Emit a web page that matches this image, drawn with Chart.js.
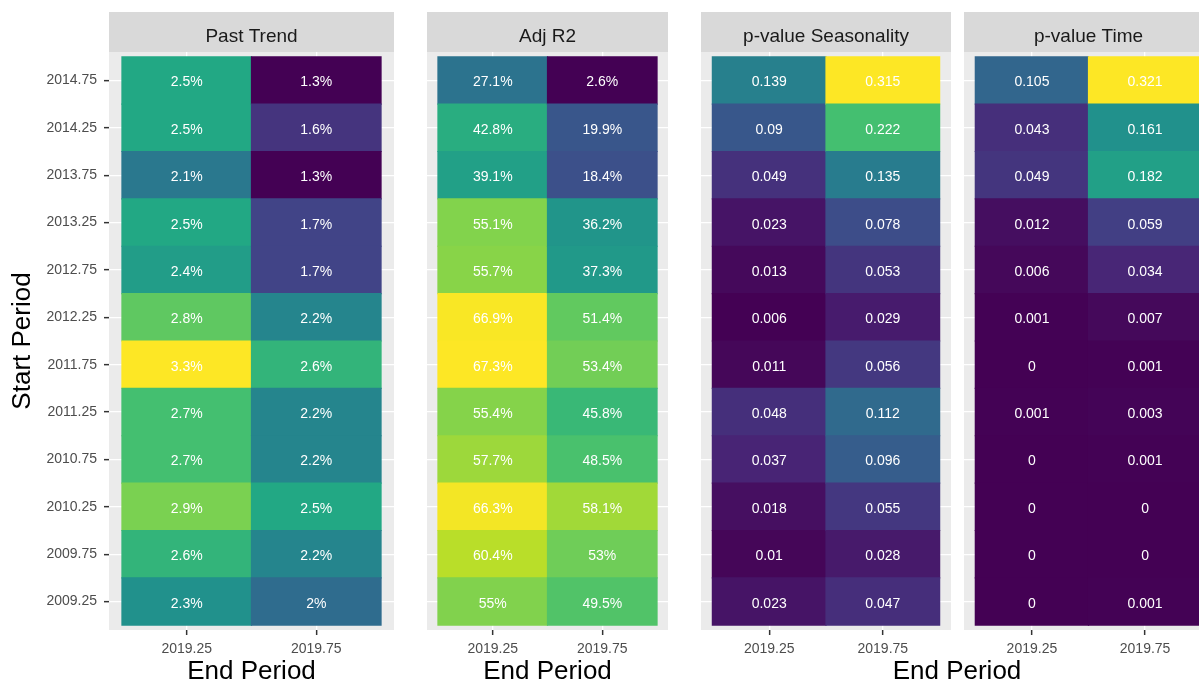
<!DOCTYPE html>
<html>
<head>
<meta charset="utf-8">
<script src="https://cdn.jsdelivr.net/npm/chart.js@4/dist/chart.umd.min.js"></script>
<style>
  html, body { margin: 0; padding: 0; background: #fff; }
  body { width: 1199px; height: 685px; overflow: hidden; position: relative; font-family: "Liberation Sans", Arial, sans-serif; }
  canvas { position: absolute; top: 0; }
  #c1 { left: 0; }
  #c2 { left: 427px; }
  #c3 { left: 701px; }
  #c4 { left: 964px; }
  .xtitle { position: absolute; left: 701px; width: 512px; top: 657px; text-align: center; font-size: 26px; line-height: 26px; color: #000; }
</style>
</head>
<body>
<canvas id="c1" width="394" height="685"></canvas>
<canvas id="c2" width="241" height="685"></canvas>
<canvas id="c3" width="250" height="685"></canvas>
<canvas id="c4" width="249" height="685"></canvas>
<div class="xtitle">End Period</div>
<script>
// rows, top to bottom
const startPeriods = [2014.75, 2014.25, 2013.75, 2013.25, 2012.75, 2012.25, 2011.75, 2011.25, 2010.75, 2010.25, 2009.75, 2009.25];
const endPeriods = [2019.25, 2019.75];

// Past Trend (%)
const pastTrend1925 = [2.5, 2.5, 2.1, 2.5, 2.4, 2.8, 3.3, 2.7, 2.7, 2.9, 2.6, 2.3];
const pastTrend1975 = [1.3, 1.6, 1.3, 1.7, 1.7, 2.2, 2.6, 2.2, 2.2, 2.5, 2.2, 2.0];

// Adj R2 (%)
const adjR21925 = [27.1, 42.8, 39.1, 55.1, 55.7, 66.9, 67.3, 55.4, 57.7, 66.3, 60.4, 55.0];
const adjR21975 = [2.6, 19.9, 18.4, 36.2, 37.3, 51.4, 53.4, 45.8, 48.5, 58.1, 53.0, 49.5];

// p-value Seasonality
const pSeason1925 = [0.139, 0.09, 0.049, 0.023, 0.013, 0.006, 0.011, 0.048, 0.037, 0.018, 0.01, 0.023];
const pSeason1975 = [0.315, 0.222, 0.135, 0.078, 0.053, 0.029, 0.056, 0.112, 0.096, 0.055, 0.028, 0.047];

// p-value Time
const pTime1925 = [0.105, 0.043, 0.049, 0.012, 0.006, 0.001, 0, 0.001, 0, 0, 0, 0];
const pTime1975 = [0.321, 0.161, 0.182, 0.059, 0.034, 0.007, 0.001, 0.003, 0.001, 0, 0, 0.001];

const FONT = '"Liberation Sans", Arial, sans-serif';
Chart.defaults.font.family = FONT;

// viridis stops
const viridis = ['#440154', '#482475', '#414487', '#355F8D', '#2A788E', '#21918C', '#22A884', '#44BF70', '#7AD151', '#BDDF26', '#FDE725'];
function hexToRgb(h) {
  return [parseInt(h.slice(1, 3), 16), parseInt(h.slice(3, 5), 16), parseInt(h.slice(5, 7), 16)];
}
function viridisColor(t) {
  t = Math.max(0, Math.min(1, t));
  const pos = t * (viridis.length - 1);
  const i = Math.min(Math.floor(pos), viridis.length - 2);
  const f = pos - i;
  const a = hexToRgb(viridis[i]), b = hexToRgb(viridis[i + 1]);
  const c = a.map((v, k) => Math.round(v + (b[k] - v) * f));
  return 'rgb(' + c.join(',') + ')';
}

const panelPlugin = {
  id: 'panel',
  beforeDraw(chart, args, opts) {
    const {ctx, chartArea: a} = chart;
    ctx.save();
    ctx.fillStyle = '#EBEBEB';
    ctx.fillRect(a.left, a.top, a.right - a.left, a.bottom - a.top);
    ctx.fillStyle = '#D9D9D9';
    ctx.fillRect(a.left, 12, a.right - a.left, a.top - 12);
    ctx.fillStyle = '#1A1A1A';
    ctx.font = '19px ' + FONT;
    ctx.textAlign = 'center';
    ctx.textBaseline = 'alphabetic';
    ctx.fillText(opts.title, (a.left + a.right) / 2, 41.5);
    ctx.restore();
  },
  afterDatasetsDraw(chart, args, opts) {
    const ctx = chart.ctx;
    const meta = chart.getDatasetMeta(0);
    const data = chart.data.datasets[0].data;
    ctx.save();
    ctx.fillStyle = '#FFFFFF';
    ctx.font = '14px ' + FONT;
    ctx.textAlign = 'center';
    ctx.textBaseline = 'alphabetic';
    meta.data.forEach((bar, i) => {
      const cy = (bar.y + bar.base) / 2;
      ctx.fillText(String(data[i].v) + opts.suffix, bar.x, cy + 6);
    });
    ctx.restore();
  }
};

function makePanel(id, title, columns, suffix, showY, showXTitle) {
  const stepX = endPeriods[1] - endPeriods[0];
  const stepY = startPeriods[0] - startPeriods[1];
  const all = columns.flat();
  const lo = Math.min(...all), hi = Math.max(...all);

  const points = [];
  const colors = [];
  columns.forEach((col, j) => {
    col.forEach((v, i) => {
      points.push({ x: endPeriods[j], y: [startPeriods[i] - stepY / 2, startPeriods[i] + stepY / 2], v: v });
      colors.push(viridisColor((v - lo) / (hi - lo)));
    });
  });

  new Chart(document.getElementById(id), {
    type: 'bar',
    data: {
      datasets: [{
        data: points,
        backgroundColor: colors,
        borderWidth: 0,
        inflateAmount: 0.6,
        barPercentage: 1,
        categoryPercentage: 1
      }]
    },
    options: {
      responsive: false,
      animation: false,
      devicePixelRatio: 1,
      events: [],
      layout: { padding: { top: 52, left: 0, right: 0, bottom: 0 } },
      plugins: {
        legend: { display: false },
        tooltip: { enabled: false },
        panel: { title: title, suffix: suffix }
      },
      scales: {
        x: {
          type: 'linear',
          offset: false,
          bounds: 'data',
          min: endPeriods[0] - stepX / 2 - stepX * 0.1,
          max: endPeriods[endPeriods.length - 1] + stepX / 2 + stepX * 0.1,
          afterBuildTicks: s => { s.ticks = endPeriods.map(v => ({ value: v })); },
          afterFit: s => { s.height = 55; },
          border: { display: false },
          grid: { offset: false, color: '#FFFFFF', lineWidth: 1.3, drawTicks: true, tickLength: 5, tickColor: '#333333', tickWidth: 1.5 },
          ticks: { autoSkip: false, maxRotation: 0, padding: 6, color: '#4D4D4D', font: { size: 14 }, callback: v => String(v) },
          title: { display: showXTitle, text: 'End Period', color: '#000000', font: { size: 26, lineHeight: 1 }, padding: { top: 0, bottom: 0 } }
        },
        y: {
          type: 'linear',
          bounds: 'data',
          min: startPeriods[startPeriods.length - 1] - stepY / 2 - stepY * 0.1,
          max: startPeriods[0] + stepY / 2 + stepY * 0.1,
          afterBuildTicks: s => { s.ticks = startPeriods.map(v => ({ value: v })); },
          afterFit: s => { s.width = showY ? 109 : 0; },
          border: { display: false },
          grid: { color: '#FFFFFF', lineWidth: 1.3, drawTicks: showY, tickLength: 5, tickColor: '#333333', tickWidth: 1.5 },
          ticks: { display: showY, autoSkip: false, padding: 7, color: '#4D4D4D', font: { size: 14 }, callback: v => String(v) },
          title: { display: showY, text: 'Start Period', color: '#000000', font: { size: 26, lineHeight: 1 }, padding: { top: 10, bottom: 0 } }
        }
      }
    },
    plugins: [panelPlugin]
  });
}

makePanel('c1', 'Past Trend', [pastTrend1925, pastTrend1975], '%', true, true);
makePanel('c2', 'Adj R2', [adjR21925, adjR21975], '%', false, true);
makePanel('c3', 'p-value Seasonality', [pSeason1925, pSeason1975], '', false, false);
makePanel('c4', 'p-value Time', [pTime1925, pTime1975], '', false, false);
</script>
</body>
</html>
